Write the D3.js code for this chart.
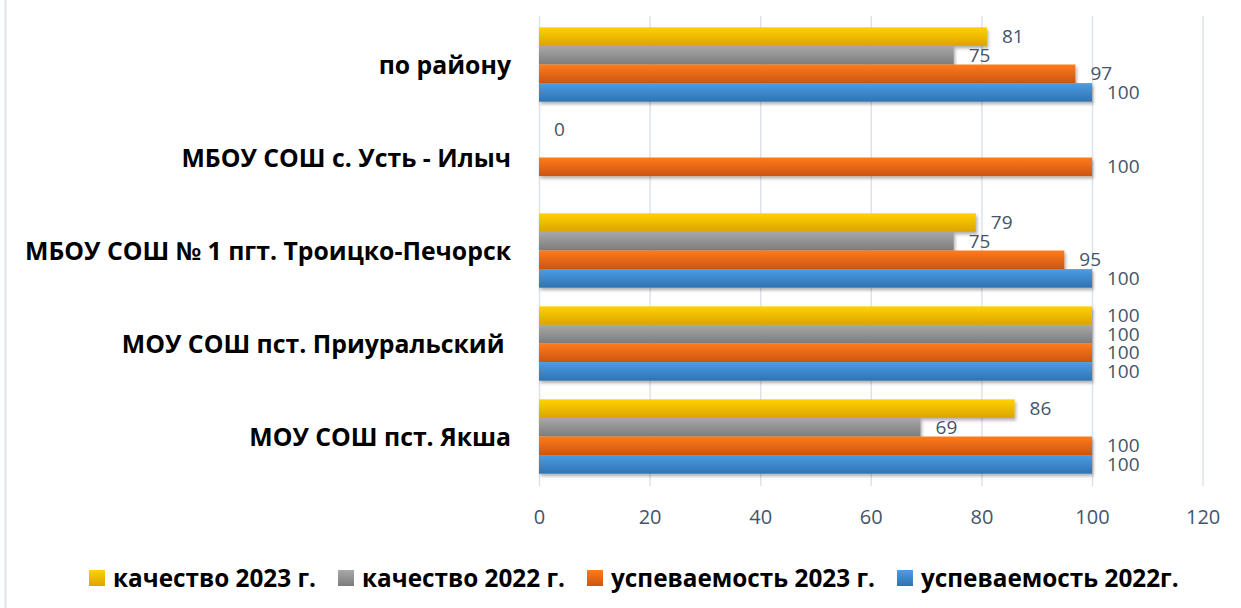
<!DOCTYPE html>
<html><head><meta charset="utf-8">
<script src="https://cdn.jsdelivr.net/npm/d3@7"></script>
<style>body{margin:0;background:#fff}svg{display:block}</style>
</head><body>
<svg id="c" width="1241" height="608"></svg>
<script>
const categories = ["по району","МБОУ СОШ с. Усть - Илыч","МБОУ СОШ № 1 пгт. Троицко-Печорск","МОУ СОШ пст. Приуральский ","МОУ СОШ пст. Якша"];
const seriesNames = ["качество 2023 г.","качество 2022 г.","успеваемость 2023 г.","успеваемость 2022г."];
const kachestvo2023 = [81, 0, 79, 100, 86];
const kachestvo2022 = [75, null, 75, 100, 69];
const uspev2023 = [97, 100, 95, 100, 100];
const uspev2022 = [100, null, 100, 100, 100];
const xTicks = [0,20,40,60,80,100,120];
const seriesValues = [kachestvo2023, kachestvo2022, uspev2023, uspev2022];
const colors = [["#ffd200","#dca300"],["#a8a8a8","#7c7c7c"],["#ff7b1c","#cc5510"],["#4b9de3","#2f73b3"]];

const svg = d3.select("#c");
const FONT = "'Open Sans', Lato, sans-serif";
const defs = svg.append("defs");
colors.forEach((c,i)=>{
  const g = defs.append("linearGradient").attr("id","g"+i).attr("x1",0).attr("y1",0).attr("x2",0).attr("y2",1);
  g.append("stop").attr("offset","0%").attr("stop-color",c[0]);
  g.append("stop").attr("offset","100%").attr("stop-color",c[1]);
});
const f = defs.append("filter").attr("id","sh").attr("x","-5%").attr("y","-30%").attr("width","115%").attr("height","180%");
f.append("feDropShadow").attr("dx",1.5).attr("dy",2.5).attr("stdDeviation",1.8).attr("flood-color","#000").attr("flood-opacity",0.3);

// chart border (left)
svg.append("line").attr("x1",5.5).attr("x2",5.5).attr("y1",0).attr("y2",608).attr("stroke","#dfe3ea").attr("stroke-width",2);

const x = d3.scaleLinear().domain([0,120]).range([539,1202.6]);
const y = d3.scaleBand().domain(categories).range([18,483]).paddingInner(0.2).paddingOuter(0.1);
const ys = d3.scaleBand().domain(d3.range(4)).range([0,y.bandwidth()]);

// gridlines
svg.append("g").selectAll("line").data(xTicks).join("line")
  .attr("x1",d=>x(d)+0.5).attr("x2",d=>x(d)+0.5).attr("y1",16).attr("y2",486)
  .attr("stroke","#dde2ea").attr("stroke-width",1.5);

// axis labels
const ax = svg.append("g").attr("transform","translate(0,517)").call(d3.axisBottom(x).tickValues(xTicks).tickSize(0).tickPadding(0));
ax.select(".domain").remove();
ax.selectAll("text").attr("font-family",FONT).attr("font-size",20).attr("fill","#44546a").attr("dy","0.35em");

// bars
seriesValues.forEach((vals,si)=>{
  const g = svg.append("g");
  const rows = categories.map((c,i)=>({c, v: vals[i]})).filter(d=>d.v!==null);
  g.selectAll("rect").data(rows.filter(d=>d.v>0)).join("rect")
    .attr("x",x(0)).attr("y",d=>y(d.c)+ys(si))
    .attr("width",d=>x(d.v)-x(0)).attr("height",ys.bandwidth())
    .attr("fill","url(#g"+si+")").attr("filter","url(#sh)");
  g.selectAll("text").data(rows).join("text")
    .attr("x",d=>x(d.v)+15).attr("y",d=>y(d.c)+ys(si)+ys.bandwidth()/2)
    .attr("dy","0.35em").attr("font-family",FONT).attr("font-size",19).attr("fill","#44546a")
    .text(d=>d.v);
});

// category labels
svg.append("g").selectAll("text").data(categories).join("text")
  .attr("x",511).attr("y",d=>y(d)+y.bandwidth()/2+1).attr("dy","0.35em")
  .attr("text-anchor","end").attr("font-family",FONT).attr("font-weight","bold").attr("font-size",24.8).attr("fill","#000")
  .attr("xml:space","preserve").style("white-space","pre")
  .text(d=>d);

// legend
const lg = svg.append("g");
let lx = 89;
seriesNames.forEach((n,i)=>{
  lg.append("rect").attr("x",lx).attr("y",570).attr("width",16).attr("height",16).attr("fill","url(#g"+i+")");
  const t = lg.append("text").attr("x",lx+24).attr("y",578).attr("dy","0.35em")
    .attr("font-family",FONT).attr("font-weight","bold").attr("font-size",24.3).attr("fill","#000").text(n);
  lx += 24 + t.node().getComputedTextLength() + 22;
});
</script>
</body></html>
